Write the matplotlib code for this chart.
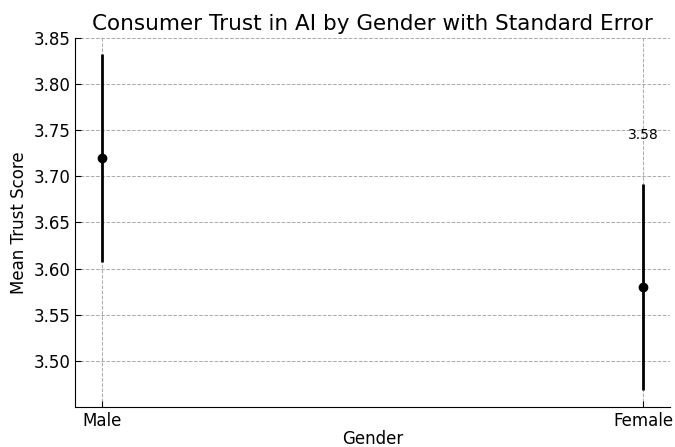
import matplotlib
matplotlib.use("Agg")
import matplotlib.pyplot as plt

genders = ["Male", "Female"]
means = [3.72, 3.58]
std_err = [0.113, 0.112]

fig = plt.figure(figsize=(6.75, 4.47), dpi=100)
ax = fig.add_axes([0.111, 0.0895, 0.882, 0.8255])

x = range(len(genders))
ax.errorbar(x, means, yerr=std_err, fmt='o', color='black', ecolor='black',
            elinewidth=2, markersize=6, capsize=0, zorder=3)

# only the female label ends up inside the plot area
ax.text(1, means[1] + 0.165, f"{means[1]:.2f}", ha='center', va='center',
        fontsize=10, clip_on=True)

ax.set_xticks(list(x))
ax.set_xticklabels(genders)
ax.set_xlim(-0.05, 1.05)
ax.set_ylim(3.45, 3.85)
ax.set_yticks([3.50, 3.55, 3.60, 3.65, 3.70, 3.75, 3.80, 3.85])
ax.set_title("Consumer Trust in AI by Gender with Standard Error", fontsize=15.5)
ax.set_xlabel("Gender", fontsize=12, labelpad=0)
ax.set_ylabel("Mean Trust Score", fontsize=12)
ax.tick_params(direction='in', length=4, labelsize=12)
ax.grid(True, linestyle='--', color='#aaaaaa', linewidth=0.7)
ax.spines['top'].set_visible(False)
ax.spines['right'].set_visible(False)

plt.savefig("out.png", dpi=100)
plt.close()
